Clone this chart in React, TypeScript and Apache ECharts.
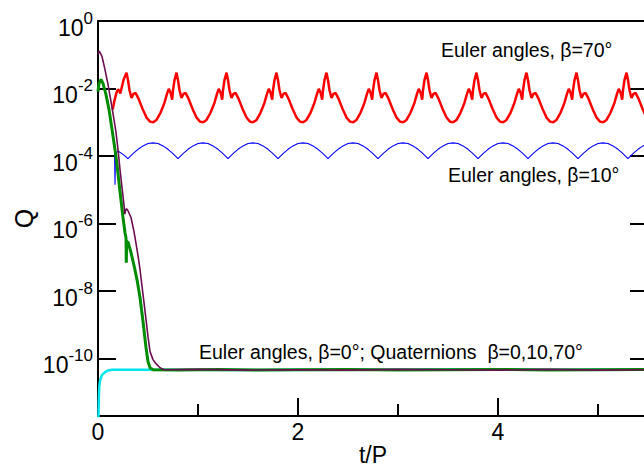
import React, { useEffect, useRef } from "react";
import * as echarts from "echarts";

// values are [t/P, log10(Q)] (the Q axis is logarithmic)
const eulerBeta70: [number, number][] = [
  [0.147,-2.62],[0.165,-2.35],[0.185,-2.12],[0.2,-2.03],[0.212,-2.06],[0.223,-2.15],[0.235,-2.0],[0.255,-1.75],[0.285,-1.53],[0.3,-1.75],[0.315,-2.05],[0.335,-2.28],[0.355,-2.16],[0.375,-2.13],[0.405,-2.3],[0.445,-2.6],[0.485,-2.86],[0.52,-2.98],[0.552,-3.0],
  [0.585,-2.93],[0.625,-2.72],[0.665,-2.42],[0.69,-2.16],[0.708,-2.01],[0.725,-2.12],[0.742,-2.33],[0.75,-2.05],[0.765,-1.75],[0.785,-1.53],[0.8,-1.75],[0.815,-2.05],[0.835,-2.28],[0.855,-2.16],[0.875,-2.13],[0.905,-2.3],[0.945,-2.6],[0.985,-2.86],[1.02,-2.98],[1.052,-3.0],
  [1.085,-2.93],[1.125,-2.72],[1.165,-2.42],[1.19,-2.16],[1.208,-2.01],[1.225,-2.12],[1.242,-2.33],[1.25,-2.05],[1.265,-1.75],[1.285,-1.53],[1.3,-1.75],[1.315,-2.05],[1.335,-2.28],[1.355,-2.16],[1.375,-2.13],[1.405,-2.3],[1.445,-2.6],[1.485,-2.86],[1.52,-2.98],[1.552,-3.0],
  [1.585,-2.93],[1.625,-2.72],[1.665,-2.42],[1.69,-2.16],[1.708,-2.01],[1.725,-2.12],[1.742,-2.33],[1.75,-2.05],[1.765,-1.75],[1.785,-1.53],[1.8,-1.75],[1.815,-2.05],[1.835,-2.28],[1.855,-2.16],[1.875,-2.13],[1.905,-2.3],[1.945,-2.6],[1.985,-2.86],[2.02,-2.98],[2.052,-3.0],
  [2.085,-2.93],[2.125,-2.72],[2.165,-2.42],[2.19,-2.16],[2.208,-2.01],[2.225,-2.12],[2.242,-2.33],[2.25,-2.05],[2.265,-1.75],[2.285,-1.53],[2.3,-1.75],[2.315,-2.05],[2.335,-2.28],[2.355,-2.16],[2.375,-2.13],[2.405,-2.3],[2.445,-2.6],[2.485,-2.86],[2.52,-2.98],[2.552,-3.0],
  [2.585,-2.93],[2.625,-2.72],[2.665,-2.42],[2.69,-2.16],[2.708,-2.01],[2.725,-2.12],[2.742,-2.33],[2.75,-2.05],[2.765,-1.75],[2.785,-1.53],[2.8,-1.75],[2.815,-2.05],[2.835,-2.28],[2.855,-2.16],[2.875,-2.13],[2.905,-2.3],[2.945,-2.6],[2.985,-2.86],[3.02,-2.98],[3.052,-3.0],
  [3.085,-2.93],[3.125,-2.72],[3.165,-2.42],[3.19,-2.16],[3.208,-2.01],[3.225,-2.12],[3.242,-2.33],[3.25,-2.05],[3.265,-1.75],[3.285,-1.53],[3.3,-1.75],[3.315,-2.05],[3.335,-2.28],[3.355,-2.16],[3.375,-2.13],[3.405,-2.3],[3.445,-2.6],[3.485,-2.86],[3.52,-2.98],[3.552,-3.0],
  [3.585,-2.93],[3.625,-2.72],[3.665,-2.42],[3.69,-2.16],[3.708,-2.01],[3.725,-2.12],[3.742,-2.33],[3.75,-2.05],[3.765,-1.75],[3.785,-1.53],[3.8,-1.75],[3.815,-2.05],[3.835,-2.28],[3.855,-2.16],[3.875,-2.13],[3.905,-2.3],[3.945,-2.6],[3.985,-2.86],[4.02,-2.98],[4.052,-3.0],
  [4.085,-2.93],[4.125,-2.72],[4.165,-2.42],[4.19,-2.16],[4.208,-2.01],[4.225,-2.12],[4.242,-2.33],[4.25,-2.05],[4.265,-1.75],[4.285,-1.53],[4.3,-1.75],[4.315,-2.05],[4.335,-2.28],[4.355,-2.16],[4.375,-2.13],[4.405,-2.3],[4.445,-2.6],[4.485,-2.86],[4.52,-2.98],[4.552,-3.0],
  [4.585,-2.93],[4.625,-2.72],[4.665,-2.42],[4.69,-2.16],[4.708,-2.01],[4.725,-2.12],[4.742,-2.33],[4.75,-2.05],[4.765,-1.75],[4.785,-1.53],[4.8,-1.75],[4.815,-2.05],[4.835,-2.28],[4.855,-2.16],[4.875,-2.13],[4.905,-2.3],[4.945,-2.6],[4.985,-2.86],[5.02,-2.98],[5.052,-3.0],
  [5.085,-2.93],[5.125,-2.72],[5.165,-2.42],[5.19,-2.16],[5.208,-2.01],[5.225,-2.12],[5.242,-2.33],[5.25,-2.05],[5.265,-1.75],[5.285,-1.53],[5.3,-1.75],[5.315,-2.05],[5.335,-2.28],[5.355,-2.16],[5.375,-2.13],[5.405,-2.3],[5.445,-2.6],[5.485,-2.86],[5.52,-2.98]
];

const eulerBeta10: [number, number][] = [
  [0,-2.09],[0.01,-1.85],[0.03,-1.73],[0.05,-1.85],[0.08,-2.18],[0.11,-2.62],[0.14,-3.21],[0.155,-3.55],[0.165,-3.8],[0.17,-4.85],[0.175,-3.92],[0.2,-3.85],[0.25,-3.95],[0.275,-4.01],[0.3,-4.08],
  [0.325,-4.0],[0.35,-3.93],[0.4,-3.8],[0.45,-3.7],[0.5,-3.63],[0.55,-3.61],[0.6,-3.63],[0.65,-3.7],[0.7,-3.8],[0.75,-3.93],[0.775,-4.0],[0.8,-4.08],
  [0.825,-4.0],[0.85,-3.93],[0.9,-3.8],[0.95,-3.7],[1.0,-3.63],[1.05,-3.61],[1.1,-3.63],[1.15,-3.7],[1.2,-3.8],[1.25,-3.93],[1.275,-4.0],[1.3,-4.08],
  [1.325,-4.0],[1.35,-3.93],[1.4,-3.8],[1.45,-3.7],[1.5,-3.63],[1.55,-3.61],[1.6,-3.63],[1.65,-3.7],[1.7,-3.8],[1.75,-3.93],[1.775,-4.0],[1.8,-4.08],
  [1.825,-4.0],[1.85,-3.93],[1.9,-3.8],[1.95,-3.7],[2.0,-3.63],[2.05,-3.61],[2.1,-3.63],[2.15,-3.7],[2.2,-3.8],[2.25,-3.93],[2.275,-4.0],[2.3,-4.08],
  [2.325,-4.0],[2.35,-3.93],[2.4,-3.8],[2.45,-3.7],[2.5,-3.63],[2.55,-3.61],[2.6,-3.63],[2.65,-3.7],[2.7,-3.8],[2.75,-3.93],[2.775,-4.0],[2.8,-4.08],
  [2.825,-4.0],[2.85,-3.93],[2.9,-3.8],[2.95,-3.7],[3.0,-3.63],[3.05,-3.61],[3.1,-3.63],[3.15,-3.7],[3.2,-3.8],[3.25,-3.93],[3.275,-4.0],[3.3,-4.08],
  [3.325,-4.0],[3.35,-3.93],[3.4,-3.8],[3.45,-3.7],[3.5,-3.63],[3.55,-3.61],[3.6,-3.63],[3.65,-3.7],[3.7,-3.8],[3.75,-3.93],[3.775,-4.0],[3.8,-4.08],
  [3.825,-4.0],[3.85,-3.93],[3.9,-3.8],[3.95,-3.7],[4.0,-3.63],[4.05,-3.61],[4.1,-3.63],[4.15,-3.7],[4.2,-3.8],[4.25,-3.93],[4.275,-4.0],[4.3,-4.08],
  [4.325,-4.0],[4.35,-3.93],[4.4,-3.8],[4.45,-3.7],[4.5,-3.63],[4.55,-3.61],[4.6,-3.63],[4.65,-3.7],[4.7,-3.8],[4.75,-3.93],[4.775,-4.0],[4.8,-4.08],
  [4.825,-4.0],[4.85,-3.93],[4.9,-3.8],[4.95,-3.7],[5.0,-3.63],[5.05,-3.61],[5.1,-3.63],[5.15,-3.7],[5.2,-3.8],[5.25,-3.93],[5.275,-4.0],[5.3,-4.08],
  [5.325,-4.0],[5.35,-3.93],[5.4,-3.8],[5.45,-3.7],[5.5,-3.63]
];

const eulerBeta0: [number, number][] = [
  [0,-2.09],[0.01,-1.85],[0.03,-1.73],[0.05,-1.85],[0.08,-2.18],[0.11,-2.62],[0.14,-3.21],[0.17,-3.81],[0.19,-4.25],[0.22,-5.05],[0.25,-5.82],[0.27,-6.27],[0.28,-6.42],[0.283,-7.16],[0.287,-6.55],[0.3,-6.54],[0.33,-6.86],[0.36,-7.24],[0.39,-7.66],[0.42,-8.19],[0.45,-8.9],[0.48,-9.67],[0.5,-10.09],[0.52,-10.27],[0.55,-10.33],
  [0.8,-10.34],[1.2,-10.32],[1.6,-10.34],[2.0,-10.33],[2.5,-10.32],[3.0,-10.34],[3.5,-10.33],[4.0,-10.32],[4.5,-10.34],[5.0,-10.33],[5.5,-10.32]
];

const quaternionA: [number, number][] = [
  [0,-0.99],[0.013,-0.89],[0.04,-1.05],[0.07,-1.44],[0.1,-1.88],[0.13,-2.39],[0.16,-2.92],[0.18,-3.3],[0.2,-3.81],[0.22,-4.4],[0.24,-4.93],[0.26,-5.45],[0.268,-5.72],[0.275,-5.62],[0.285,-5.56],[0.3,-5.62],[0.33,-5.82],[0.36,-6.24],[0.38,-6.59],[0.4,-6.95],[0.42,-7.36],[0.45,-8.1],[0.48,-8.84],[0.5,-9.35],[0.52,-9.79],[0.55,-10.03],[0.58,-10.15],[0.62,-10.27],[0.66,-10.33],
  [1.0,-10.32],[1.5,-10.34],[2.0,-10.33],[2.5,-10.34],[3.0,-10.32],[3.5,-10.33],[4.0,-10.34],[4.5,-10.32],[5.0,-10.34],[5.5,-10.33]
];

const quaternionB: [number, number][] = [
  [0,-13],[0.004,-11.8],[0.008,-11.2],[0.013,-10.82],[0.02,-10.65],[0.04,-10.48],[0.07,-10.4],[0.1,-10.35],[0.14,-10.33],[0.6,-10.33],[1.5,-10.34],[2.5,-10.33],[3.5,-10.32],[4.5,-10.33],[5.5,-10.33]
];

const xLabelValues = [0, 2, 4];
const yLabelExponents = [0, -2, -4, -6, -8, -10];
const yRange = [-11.7, 0];
const xRange = [0, 5.5];
const annotations = [
  "Euler angles, \u03b2=70\u00b0",
  "Euler angles, \u03b2=10\u00b0",
  "Euler angles, \u03b2=0\u00b0; Quaternions  \u03b2=0,10,70\u00b0"
];

const FONT = "'Liberation Sans', Arial, Helvetica, sans-serif";

export default function App() {
  const ref = useRef<HTMLDivElement>(null);
  useEffect(() => {
    const chart = echarts.init(ref.current!, null, { renderer: "svg" });
    const lineSeries = (name: string, pts: [number, number][], color: string, width: number) => ({
      type: "line",
      name,
      data: pts,
      showSymbol: false,
      symbol: "none",
      clip: true,
      lineStyle: { color, width },
      itemStyle: { color },
      xAxisIndex: 0,
      yAxisIndex: 0,
      z: 3,
    });
    const yLabelFmt = (v: number) => {
      const r = Math.round(v);
      if (Math.abs(v - r) > 1e-6 || !yLabelExponents.includes(r)) return "";
      return `{b|10}{s|${r}}`;
    };
    const axisLine = { show: true, onZero: false, lineStyle: { color: "#000", width: 2 } };
    const option: any = {
      animation: false,
      backgroundColor: "#fff",
      grid: { left: 98, right: -4, top: 21, bottom: 52, containLabel: false, outerBoundsMode: "none" },
      xAxis: [
        {
          type: "value", min: xRange[0], max: xRange[1], interval: 2, position: "bottom",
          axisLine, splitLine: { show: false },
          axisTick: { show: true, inside: true, length: 18, lineStyle: { color: "#000", width: 2 } },
          axisLabel: {
            fontSize: 23, fontFamily: FONT, color: "#000", margin: 4,
            formatter: (v: number) => (xLabelValues.includes(v) ? String(v) : ""),
          },
          name: "t/P", nameLocation: "middle", nameGap: 27, nameMoveOverlap: false,
          nameTextStyle: { fontSize: 23, lineHeight: 23, fontFamily: FONT, color: "#000" },
        },
        {
          type: "value", min: xRange[0], max: xRange[1], interval: 1, position: "bottom",
          axisLine: { show: false, onZero: false }, splitLine: { show: false }, axisLabel: { show: false },
          axisTick: { show: true, inside: true, length: 12, lineStyle: { color: "#000", width: 2 } },
        },
        {
          type: "value", min: xRange[0], max: xRange[1], position: "top",
          axisLine, splitLine: { show: false }, axisLabel: { show: false }, axisTick: { show: false },
        },
      ],
      yAxis: [
        {
          type: "value", min: yRange[0], max: yRange[1], splitNumber: 6, position: "left",
          axisLine, splitLine: { show: false },
          axisTick: { show: true, inside: true, length: 18, lineStyle: { color: "#000", width: 2 } },
          axisLabel: {
            margin: 5, formatter: yLabelFmt, padding: [7, 0, 0, 0],
            rich: {
              b: { fontSize: 23, fontFamily: FONT, color: "#000", padding: [6.5, 0, 0, 0] },
              s: { fontSize: 17, fontFamily: FONT, color: "#000", verticalAlign: "top" },
            },
          },
          name: "Q", nameLocation: "middle", nameGap: 62, nameMoveOverlap: false,
          nameTextStyle: { fontSize: 25, fontFamily: FONT, color: "#000" },
        },
        {
          type: "value", min: yRange[0], max: yRange[1], splitNumber: 6, position: "right",
          axisLine, splitLine: { show: false }, axisLabel: { show: false },
          axisTick: { show: true, inside: true, length: 18, lineStyle: { color: "#000", width: 2 } },
        },
      ],
      series: [
        lineSeries("Euler angles, \u03b2=70\u00b0", eulerBeta70, "#ff0000", 2.5),
        lineSeries("Euler angles, \u03b2=10\u00b0", eulerBeta10, "#0000ff", 1.1),
        lineSeries("Quaternions", quaternionB, "#00e8ee", 2.5),
        lineSeries("Euler angles, \u03b2=0\u00b0", eulerBeta0, "#008c00", 3),
        lineSeries("Quaternions, \u03b2=70\u00b0", quaternionA, "#6b0e52", 1.6),
      ],
      graphic: [
        { type: "text", x: 441, y: 49.5, style: { text: annotations[0], fontSize: 19.5, fontFamily: FONT, fill: "#000", verticalAlign: "middle" } },
        { type: "text", x: 448, y: 175, style: { text: annotations[1], fontSize: 19.5, fontFamily: FONT, fill: "#000", verticalAlign: "middle" } },
        { type: "text", x: 199, y: 351.5, style: { text: annotations[2], fontSize: 19.5, fontFamily: FONT, fill: "#000", verticalAlign: "middle" } },
      ],
    };
    chart.setOption(option);
    return () => chart.dispose();
  }, []);
  return <div ref={ref} style={{ position: "absolute", left: 0, top: 0, width: 644, height: 468, background: "#fff" }} />;
}
